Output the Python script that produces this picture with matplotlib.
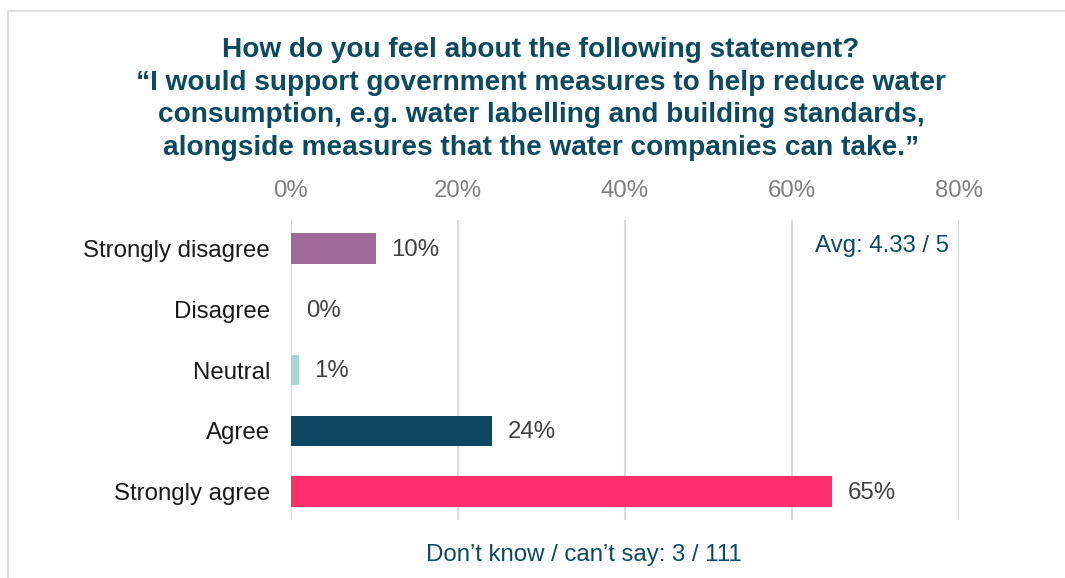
import matplotlib
matplotlib.use("Agg")
import matplotlib.pyplot as plt
from matplotlib.lines import Line2D

plt.rcParams["font.family"] = ["Liberation Sans", "DejaVu Sans"]

# Survey responses (share of respondents, %)
categories = ["Strongly disagree", "Disagree", "Neutral", "Agree", "Strongly agree"]
shares = [10.2, 0.0, 0.9, 24.1, 64.8]
bar_colors = ["#9E6899", "#C9C9C9", "#A5D5D3", "#0C4660", "#FF2F6E"]
x_ticks = [0, 20, 40, 60, 80]

title = ("How do you feel about the following statement?\n"
         "\u201cI would support government measures to help reduce water\n"
         "consumption, e.g. water labelling and building standards,\n"
         "alongside measures that the water companies can take.\u201d")
avg_text = "Avg: 4.33 / 5"
dont_know_text = "Don\u2019t know / can\u2019t say: 3 / 111"

TEAL = "#0C4A60"
GRID = "#D9D9D9"
FS = 17.3

fig = plt.figure(figsize=(10.65, 5.78), dpi=100)
ax = fig.add_axes([291 / 1065, 1 - 520 / 578, (959 - 291) / 1065, 300 / 578])

ypos = list(range(len(categories)))
ax.barh(ypos, shares, height=0.5, color=bar_colors, zorder=3)

for y, v in zip(ypos, shares):
    ax.annotate(f"{v:.0f}%", xy=(v, y), xytext=(11, -1),
                textcoords="offset points", va="center", ha="left",
                fontsize=FS, color="#404040")

ax.set_xlim(0, 80)
ax.set_ylim(len(categories) - 0.53, -0.47)
ax.set_xticks(x_ticks)
ax.set_xticklabels([f"{t}%" for t in x_ticks])
ax.xaxis.tick_top()
ax.tick_params(axis="x", length=0, pad=13, labelsize=FS, labelcolor="#7F7F7F")
ax.set_yticks(ypos)
ax.set_yticklabels(categories)
ax.tick_params(axis="y", length=0, pad=15, labelsize=FS, labelcolor="#1A1A1A")
ax.grid(axis="x", color=GRID, linewidth=1.5, zorder=0)
for side in ax.spines.values():
    side.set_visible(False)

ax.text(0.985, 0.915, avg_text, transform=ax.transAxes, ha="right",
        va="center", fontsize=FS, color=TEAL)

fig.text(541 / 1065, 1 - 99 / 578, title, ha="center", va="center",
         fontsize=20.2, fontweight="bold", color=TEAL, linespacing=1.32)
fig.text(584 / 1065, 1 - 555 / 578, dont_know_text, ha="center",
         va="center", fontsize=FS, color=TEAL)

# light frame along the top and left edges
fig.add_artist(Line2D([8 / 1065, 8 / 1065, 1.0], [0.0, 1 - 11 / 578, 1 - 11 / 578],
                      transform=fig.transFigure, color=GRID, linewidth=1.2))

fig.savefig("out.png", dpi=100)
